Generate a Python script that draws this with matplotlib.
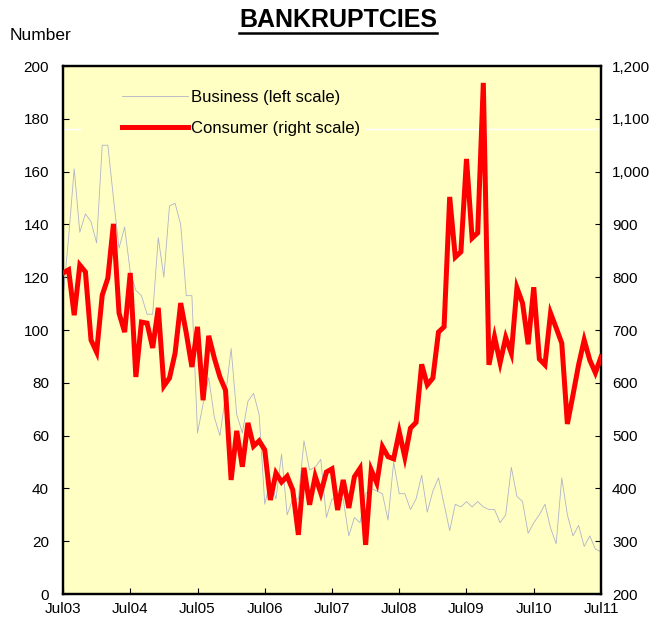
import numpy as np
import matplotlib
matplotlib.use("Agg")
import matplotlib.pyplot as plt
from matplotlib.lines import Line2D
from matplotlib.ticker import FuncFormatter

plt.rcParams['font.family'] = ['Liberation Sans', 'DejaVu Sans']

# Monthly data, Jul 2003 .. Jul 2011
business = [112, 135, 161, 137, 144, 141, 133, 170, 170, 150, 131, 139,
            122, 115, 113, 106, 106, 135, 120, 147, 148, 140, 113, 113,
            61, 72, 82, 67, 60, 75, 93, 68, 61, 73, 76, 68,
            34, 43, 36, 53, 30, 36, 36, 58, 47, 48, 51, 29,
            36, 36, 36, 22, 29, 27, 38, 40, 39, 38, 28, 50,
            38, 38, 32, 36, 45, 31, 39, 44, 34, 24, 34, 33,
            35, 33, 35, 33, 32, 32, 27, 30, 48, 37, 35, 23,
            27, 30, 34, 25, 19, 44, 30, 22, 26, 18, 22, 17, 16]
consumer = [808, 814, 728, 823, 810, 681, 658, 766, 798, 901, 732, 696,
            808, 611, 715, 713, 666, 742, 594, 609, 656, 751, 694, 630,
            706, 567, 689, 647, 611, 586, 416, 509, 441, 524, 480, 490,
            473, 378, 429, 412, 423, 397, 312, 439, 369, 423, 391, 431,
            437, 359, 416, 363, 422, 438, 293, 435, 410, 479, 460, 456,
            507, 459, 514, 525, 635, 596, 609, 696, 706, 952, 838, 848,
            1024, 874, 884, 1168, 634, 687, 638, 686, 656, 780, 751, 673,
            781, 645, 634, 732, 704, 675, 522, 577, 634, 681, 643, 619, 649]
tick_labels = ['Jul03', 'Jul04', 'Jul05', 'Jul06', 'Jul07', 'Jul08', 'Jul09', 'Jul10', 'Jul11']
months = np.arange(len(consumer))

W, H = 654, 621
fig = plt.figure(figsize=(W / 100, H / 100), dpi=100)
ax = fig.add_axes([63 / W, 1 - 594 / H, (601 - 63) / W, (594 - 66) / H])
ax.set_facecolor('#FFFFC4')
ax2 = ax.twinx()
ax2.patch.set_visible(False)

# faint white line seen in the reference
ax.axhline(176, xmin=0, xmax=0.032, color='white', lw=1.0, zorder=1)
ax.axhline(176, xmin=0.561, xmax=1, color='white', lw=1.0, zorder=1)

lb, = ax.plot(months, business, color='#B0B3C8', lw=0.6, zorder=2)
lc, = ax2.plot(months, consumer, color='#FF0000', lw=3.6, solid_joinstyle='miter', zorder=3)

ax.set_xlim(0, 96)
ax.set_ylim(0, 200)
ax2.set_ylim(200, 1200)
ax.set_xticks(np.arange(0, 97, 12))
ax.set_xticklabels(tick_labels)
ax.set_yticks(np.arange(0, 201, 20))
ax2.set_yticks(np.arange(200, 1201, 100))
ax2.yaxis.set_major_formatter(FuncFormatter(lambda v, p: f'{int(v):,}'))

for a in (ax, ax2):
    a.tick_params(direction='in', length=4, width=0.8, labelsize=11, colors='black')
    for s in a.spines.values():
        s.set_linewidth(1.6)
        s.set_color('black')
ax.tick_params(axis='x', pad=6)
ax.tick_params(axis='y', pad=10)
ax2.tick_params(axis='y', pad=8)

leg = ax2.legend([lb, lc], ['Business (left scale)', 'Consumer (right scale)'],
                 loc='upper left', bbox_to_anchor=(0.11, 0.955), frameon=False,
                 fontsize=12, handlelength=3.95, handletextpad=0.2,
                 labelspacing=0.95, borderpad=0, borderaxespad=0)

fig.text(41 / W, 1 - 35 / H, 'Number', fontsize=12.5, ha='center', va='center')
title = fig.text(338 / W, 1 - 20 / H, 'BANKRUPTCIES', fontsize=18, fontweight='bold',
                 ha='center', va='center')

fig.canvas.draw()
bb = title.get_window_extent(fig.canvas.get_renderer())
y_ul = (bb.y0 - 1) / H
fig.add_artist(Line2D([bb.x0 / W, bb.x1 / W], [y_ul, y_ul], color='black', lw=1.8))

fig.savefig('out.png', dpi=100)
